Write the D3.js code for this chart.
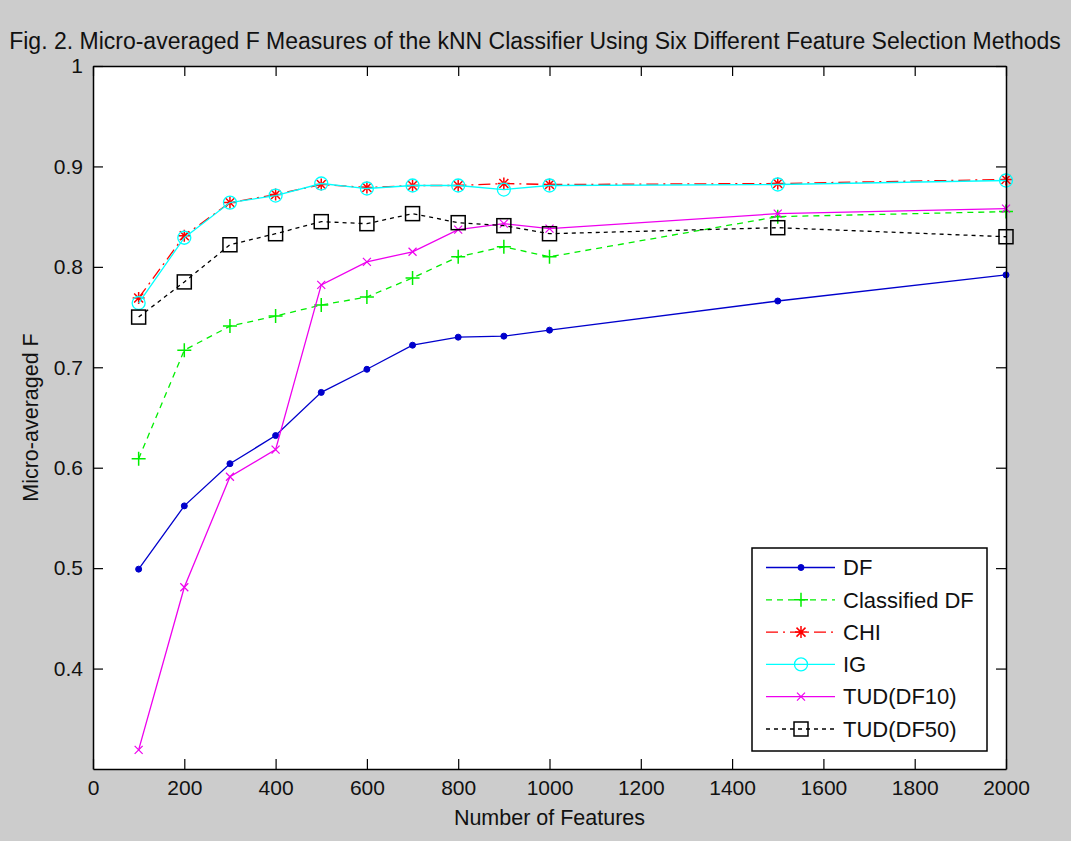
<!DOCTYPE html>
<html>
<head>
<meta charset="utf-8">
<script src="https://cdn.jsdelivr.net/npm/d3@7"></script>
<style>
  body { margin: 0; background: #cccccc; }
  svg { display: block; }
  text { font-family: Arial, "Liberation Sans", sans-serif; }
</style>
</head>
<body>
<svg id="screen" width="1071" height="841"></svg>
<script>
var features = [100, 200, 300, 400, 500, 600, 700, 800, 900, 1000, 1500, 2000]
var dfVals = [0.499, 0.562, 0.604, 0.632, 0.675, 0.698, 0.722, 0.730, 0.731, 0.737, 0.766, 0.792]
var classifiedDfVals = [0.609, 0.717, 0.741, 0.751, 0.762, 0.770, 0.789, 0.810, 0.820, 0.810, 0.850, 0.855]
var chiVals = [0.769, 0.831, 0.864, 0.872, 0.882, 0.879, 0.881, 0.881, 0.883, 0.882, 0.883, 0.887]
var igVals = [0.764, 0.829, 0.864, 0.871, 0.883, 0.878, 0.881, 0.881, 0.877, 0.881, 0.882, 0.886]
var tud10Vals = [0.319, 0.481, 0.591, 0.618, 0.782, 0.805, 0.815, 0.837, 0.843, 0.838, 0.853, 0.858]
var tud50Vals = [0.750, 0.785, 0.822, 0.833, 0.845, 0.843, 0.853, 0.844, 0.841, 0.833, 0.839, 0.830]

var seriesNames = ["DF", "Classified DF", "CHI", "IG", "TUD(DF10)", "TUD(DF50)"]
var xTicks = [0, 200, 400, 600, 800, 1000, 1200, 1400, 1600, 1800, 2000]
var yTicks = [0.4, 0.5, 0.6, 0.7, 0.8, 0.9, 1]

var titleText = "Fig. 2. Micro-averaged F Measures of the kNN Classifier Using Six Different Feature Selection Methods"

var series = [
  {name: seriesNames[0], values: dfVals, color: "#0000cc", dash: null, marker: "dot"},
  {name: seriesNames[1], values: classifiedDfVals, color: "#00ee00", dash: "6,5", marker: "plus"},
  {name: seriesNames[2], values: chiVals, color: "#ff0000", dash: "12,5,2,5", marker: "star"},
  {name: seriesNames[3], values: igVals, color: "#00ffff", dash: null, marker: "circle"},
  {name: seriesNames[4], values: tud10Vals, color: "#ee00ee", dash: null, marker: "x"},
  {name: seriesNames[5], values: tud50Vals, color: "#000000", dash: "4,4", marker: "square"}
]

var svg = d3.select("#screen")
var margin = {top: 66, bottom: 72, left: 93, right: 65}
var width = 1071 - margin.left - margin.right
var height = 841 - margin.top - margin.bottom

var xScale = d3.scaleLinear().domain([0, 2000]).range([margin.left, margin.left + width])
var yScale = d3.scaleLinear().domain([0.3, 1]).range([margin.top + height, margin.top])

svg.append("rect")
  .attr("x", margin.left)
  .attr("y", margin.top)
  .attr("width", width)
  .attr("height", height)
  .attr("fill", "white")

function drawMarker(g, type, color) {
  if (type == "dot") {
    g.append("circle").attr("r", 3).attr("fill", color).attr("stroke", color)
  } else if (type == "plus") {
    g.append("path").attr("d", "M-7,0H7M0,-7V7").attr("stroke", color).attr("stroke-width", 1.5).attr("fill", "none")
  } else if (type == "star") {
    g.append("path").attr("d", "M-6,0H6M0,-6V6M-4.5,-4.5L4.5,4.5M-4.5,4.5L4.5,-4.5")
      .attr("stroke", color).attr("stroke-width", 1.5).attr("fill", "none")
  } else if (type == "circle") {
    g.append("circle").attr("r", 6.5).attr("fill", "none").attr("stroke", color).attr("stroke-width", 1.3)
  } else if (type == "x") {
    g.append("path").attr("d", "M-4,-4L4,4M-4,4L4,-4").attr("stroke", color).attr("stroke-width", 1.2).attr("fill", "none")
  } else if (type == "square") {
    g.append("rect").attr("x", -7).attr("y", -7).attr("width", 14).attr("height", 14)
      .attr("fill", "none").attr("stroke", color).attr("stroke-width", 1.5)
  }
}

var line = d3.line()
  .x(function (d, i) { return xScale(features[i]) })
  .y(function (d) { return yScale(d) })

var linesGroup = svg.append("g").attr("id", "linesGroup")

series.forEach(function (s) {
  linesGroup.append("path")
    .datum(s.values)
    .attr("d", line)
    .attr("fill", "none")
    .attr("stroke", s.color)
    .attr("stroke-width", 1.3)
    .attr("stroke-dasharray", s.dash)

  s.values.forEach(function (v, i) {
    var g = linesGroup.append("g")
      .attr("transform", "translate(" + xScale(features[i]) + "," + yScale(v) + ")")
    drawMarker(g, s.marker, s.color)
  })
})

// axes, ticks pointing inward on all four sides
var xAxis = svg.append("g")
  .attr("transform", "translate(0," + (margin.top + height) + ")")
  .call(d3.axisBottom(xScale).tickValues(xTicks).tickSizeInner(-10).tickSizeOuter(0).tickPadding(11)
    .tickFormat(d3.format("d")))
var xAxisTop = svg.append("g")
  .attr("transform", "translate(0," + margin.top + ")")
  .call(d3.axisTop(xScale).tickValues(xTicks).tickSizeInner(-10).tickSizeOuter(0).tickFormat(""))
var yAxis = svg.append("g")
  .attr("transform", "translate(" + margin.left + ",0)")
  .call(d3.axisLeft(yScale).tickValues(yTicks).tickSizeInner(-10).tickSizeOuter(0).tickPadding(10)
    .tickFormat(function (d) { return d == 1 ? "1" : d3.format(".1f")(d) }))
var yAxisRight = svg.append("g")
  .attr("transform", "translate(" + (margin.left + width) + ",0)")
  .call(d3.axisRight(yScale).tickValues(yTicks).tickSizeInner(-10).tickSizeOuter(0).tickFormat(""))

svg.selectAll(".domain").attr("stroke", "black").attr("stroke-width", 1.5)
svg.selectAll(".tick line").attr("stroke", "black").attr("stroke-width", 1.2)
svg.selectAll(".tick text").attr("fill", "#111").style("font-size", "21px")

svg.append("text")
  .attr("x", 535)
  .attr("y", 49)
  .attr("text-anchor", "middle")
  .style("font-size", "23px")
  .attr("fill", "#111")
  .text(titleText)

svg.append("text")
  .attr("x", margin.left + width / 2)
  .attr("y", 825)
  .attr("text-anchor", "middle")
  .style("font-size", "21.5px")
  .attr("fill", "#111")
  .text("Number of Features")

svg.append("text")
  .attr("transform", "translate(38," + (margin.top + height / 2) + ") rotate(-90)")
  .attr("text-anchor", "middle")
  .style("font-size", "21.5px")
  .attr("fill", "#111")
  .text("Micro-averaged F")

var legend = svg.append("g").attr("id", "legend")
legend.append("rect")
  .attr("x", 752)
  .attr("y", 548)
  .attr("width", 235)
  .attr("height", 203)
  .attr("fill", "white")
  .attr("stroke", "black")
  .attr("stroke-width", 1.5)

series.forEach(function (s, i) {
  var ly = 567.5 + i * 32.3
  legend.append("line")
    .attr("x1", 766).attr("x2", 835)
    .attr("y1", ly).attr("y2", ly)
    .attr("stroke", s.color)
    .attr("stroke-width", 1.3)
    .attr("stroke-dasharray", s.dash)
  var g = legend.append("g").attr("transform", "translate(801," + ly + ")")
  drawMarker(g, s.marker, s.color)
  legend.append("text")
    .attr("x", 843)
    .attr("y", ly)
    .attr("dy", "0.35em")
    .style("font-size", "22px")
    .attr("fill", "#111")
    .text(s.name)
})
</script>
</body>
</html>
